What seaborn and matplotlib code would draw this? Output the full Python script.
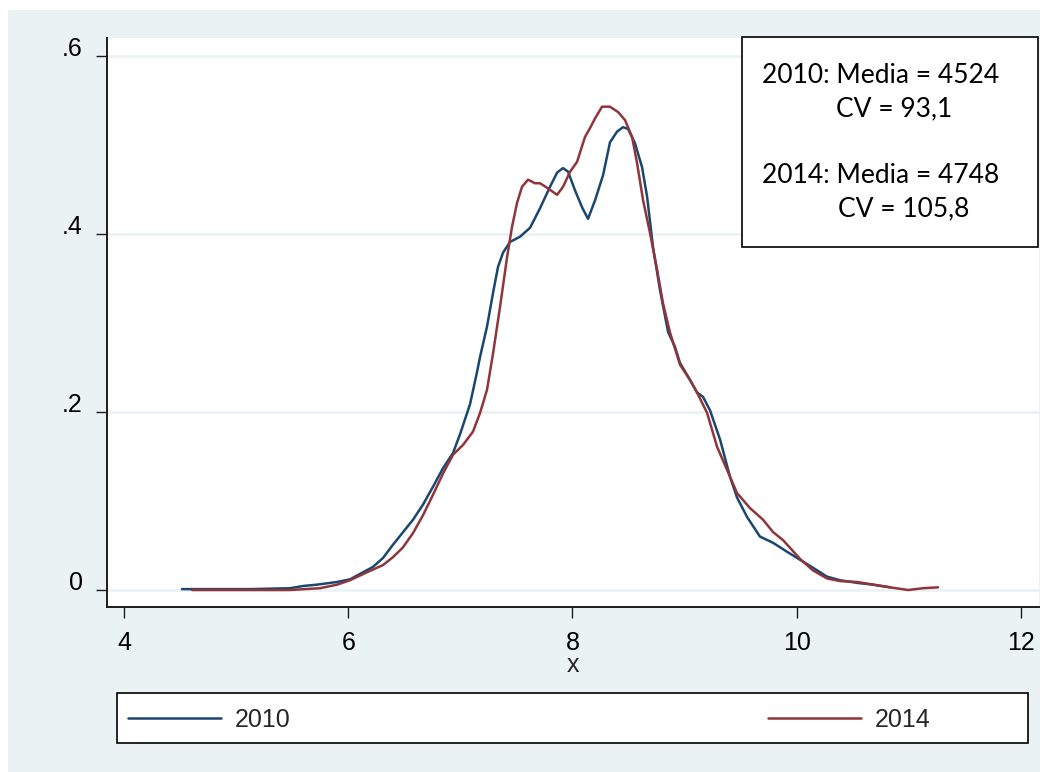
import matplotlib
matplotlib.use("Agg")
import matplotlib.pyplot as plt
from matplotlib.patches import Rectangle
from matplotlib.lines import Line2D
import pandas as pd
import seaborn as sns

# Kernel density of log income, 2010
x_2010 = [4.517, 5.124, 5.481, 5.597, 5.722, 5.900, 6.016, 6.221, 6.310, 6.400,
          6.489, 6.578, 6.667, 6.756, 6.846, 6.935, 7.000, 7.087, 7.149, 7.176,
          7.238, 7.292, 7.336, 7.381, 7.443, 7.533, 7.622, 7.711, 7.800, 7.863,
          7.916, 7.961, 8.023, 8.086, 8.139, 8.202, 8.273, 8.335, 8.398, 8.451,
          8.496, 8.558, 8.621, 8.666, 8.719, 8.781, 8.853, 8.915, 8.960, 9.049,
          9.111, 9.165, 9.227, 9.317, 9.406, 9.468, 9.558, 9.673, 9.790, 9.914,
          10.030, 10.146, 10.271, 10.387, 10.539, 10.682, 10.833]
d_2010 = [0.001, 0.001, 0.002, 0.0045, 0.006, 0.009, 0.012, 0.026, 0.036, 0.051,
          0.065, 0.079, 0.096, 0.116, 0.137, 0.154, 0.176, 0.209, 0.245, 0.262,
          0.296, 0.334, 0.363, 0.379, 0.391, 0.397, 0.407, 0.429, 0.453, 0.469,
          0.474, 0.470, 0.449, 0.430, 0.417, 0.438, 0.466, 0.503, 0.515, 0.520,
          0.518, 0.502, 0.475, 0.442, 0.385, 0.337, 0.290, 0.273, 0.255, 0.236,
          0.222, 0.217, 0.202, 0.169, 0.127, 0.104, 0.082, 0.060, 0.053, 0.043,
          0.034, 0.025, 0.015, 0.011, 0.008, 0.006, 0.003]

# Kernel density of log income, 2014
x_2014 = [4.607, 5.124, 5.481, 5.748, 5.900, 6.016, 6.168, 6.310, 6.400, 6.489,
          6.578, 6.667, 6.756, 6.846, 6.935, 7.024, 7.113, 7.176, 7.238, 7.292,
          7.354, 7.417, 7.461, 7.506, 7.550, 7.604, 7.666, 7.711, 7.773, 7.863,
          7.916, 7.979, 8.041, 8.112, 8.157, 8.202, 8.264, 8.335, 8.407, 8.469,
          8.532, 8.576, 8.630, 8.692, 8.755, 8.808, 8.871, 8.960, 9.049, 9.111,
          9.201, 9.290, 9.379, 9.468, 9.584, 9.700, 9.790, 9.879, 10.030, 10.146,
          10.271, 10.387, 10.539, 10.682, 10.833, 10.994, 11.127, 11.261]
d_2014 = [0.000, 0.000, 0.000, 0.002, 0.006, 0.011, 0.020, 0.028, 0.037, 0.048,
          0.064, 0.084, 0.107, 0.131, 0.152, 0.163, 0.178, 0.199, 0.225, 0.266,
          0.318, 0.374, 0.408, 0.435, 0.453, 0.461, 0.457, 0.457, 0.452, 0.444,
          0.453, 0.470, 0.481, 0.509, 0.519, 0.530, 0.543, 0.543, 0.537, 0.528,
          0.509, 0.480, 0.438, 0.401, 0.360, 0.322, 0.289, 0.253, 0.236, 0.222,
          0.199, 0.161, 0.135, 0.109, 0.092, 0.079, 0.065, 0.056, 0.035, 0.022,
          0.013, 0.010, 0.009, 0.006, 0.003, 0.000, 0.002, 0.003]

years = ["2010", "2014"]
line_colors = ["#1a476f", "#90353b"]
x_ticks = [4, 6, 8, 10, 12]
y_ticks = [0, 0.2, 0.4, 0.6]
y_tick_labels = ["0", ".2", ".4", ".6"]
x_title = "x"
summary_lines = ["2010: Media = 4524", "CV = 93,1", "2014: Media = 4748", "CV = 105,8"]

df = pd.concat([
    pd.DataFrame({"x": x_2010, "density": d_2010, "year": years[0]}),
    pd.DataFrame({"x": x_2014, "density": d_2014, "year": years[1]}),
], ignore_index=True)

sns.set_style("ticks")
plt.rcParams["font.family"] = ["Liberation Sans", "DejaVu Sans"]

W, H = 1051, 772
BG = "#eaf2f3"


def fx(px):
    return px / W


def fy(py):
    return 1 - py / H


fig = plt.figure(figsize=(W / 100, H / 100), dpi=100, facecolor="white")

# outer graph region
fig.patches.append(Rectangle((fx(8), 0), fx(1040) - fx(8), fy(10), transform=fig.transFigure,
                             facecolor=BG, edgecolor="none", zorder=-5))

ax = fig.add_axes([fx(107), fy(607), fx(1039) - fx(107), (607 - 38) / H])
ax.set_facecolor("white")

sns.lineplot(data=df, x="x", y="density", hue="year", palette=line_colors,
             linewidth=1.8, errorbar=None, legend=False, ax=ax, zorder=3)

ax.set_xlim(3.848, 12.162)
ax.set_ylim(-0.0191, 0.6202)
ax.set_xticks(x_ticks)
ax.set_xticklabels([str(t) for t in x_ticks])
ax.set_yticks(y_ticks)
ax.set_yticklabels(y_tick_labels)
ax.set_ylabel("")
ax.set_xlabel(x_title, fontsize=18)
ax.xaxis.set_label_coords(0.5, -(665 - 607) / 569)
ax.xaxis.label.set_va("center")

ax.yaxis.grid(True, color=BG, linewidth=1.9)
ax.xaxis.grid(False)
ax.set_axisbelow(True)

for side in ["top", "right"]:
    ax.spines[side].set_visible(False)
for side in ["left", "bottom"]:
    ax.spines[side].set_color("#1c1c1c")
    ax.spines[side].set_linewidth(1.4)

ax.tick_params(direction="out", length=8, width=1.0, color="#1c1c1c",
               labelsize=18, pad=9.5, labelcolor="black")
for lab in ax.get_yticklabels():
    lab.set_va("baseline")

# summary statistics box
fig.patches.append(Rectangle((fx(742), fy(247)), fx(1038) - fx(742), (247 - 37) / H,
                             transform=fig.transFigure, facecolor="white",
                             edgecolor="black", linewidth=1.2, zorder=5))
text_pos = [(762, 83), (836, 116), (762, 183), (838, 216)]
for (px, py), s in zip(text_pos, summary_lines):
    fig.text(fx(px), fy(py), s, ha="left", va="baseline", fontsize=19,
             family=["Lato", "DejaVu Sans"], color="black", zorder=6)

# legend below the plot
fig.patches.append(Rectangle((fx(117), fy(743)), fx(1028) - fx(117), (743 - 693) / H,
                             transform=fig.transFigure, facecolor="white",
                             edgecolor="black", linewidth=1.2, zorder=1))
handles = [Line2D([], [], color=c, linewidth=1.8) for c in line_colors]
fig.legend(handles=handles, labels=years, loc="center left",
           bbox_to_anchor=(fx(128), fy(720)), ncol=2, frameon=False,
           borderpad=0, borderaxespad=0, handlelength=3.72, handletextpad=0.56,
           columnspacing=19.1, fontsize=18)

fig.savefig("out.png", dpi=100, facecolor=fig.get_facecolor())
